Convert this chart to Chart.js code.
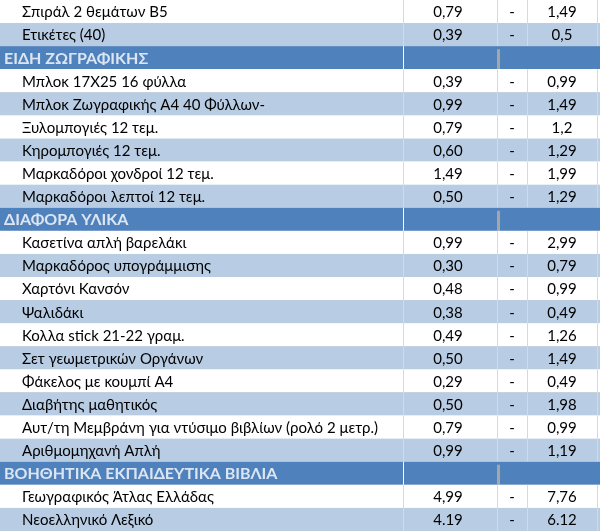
<!DOCTYPE html>
<html><head><meta charset="utf-8">
<script src="https://cdn.jsdelivr.net/npm/chart.js@4/dist/chart.umd.min.js"></script>
<style>html,body{margin:0;padding:0;background:#fff}#wrap{width:600px;height:531px}</style>
</head><body><div id="wrap"><canvas id="c"></canvas></div>
<script>
// Rows (header rows have null prices)
const items = ['Σπιράλ 2 θεμάτων Β5','Ετικέτες (40)','ΕΙΔΗ ΖΩΓΡΑΦΙΚΗΣ','Μπλοκ 17Χ25 16 φύλλα','Μπλοκ Ζωγραφικής Α4 40 Φύλλων-','Ξυλομπογιές 12 τεμ.','Κηρομπογιές 12 τεμ.','Μαρκαδόροι χονδροί 12 τεμ.','Μαρκαδόροι λεπτοί 12 τεμ.','ΔΙΑΦΟΡΑ ΥΛΙΚΑ','Κασετίνα απλή βαρελάκι','Μαρκαδόρος υπογράμμισης','Χαρτόνι Κανσόν','Ψαλιδάκι','Κολλα stick 21-22 γραμ.','Σετ γεωμετρικών Οργάνων','Φάκελος με κουμπί Α4','Διαβήτης μαθητικός','Αυτ/τη Μεμβράνη για ντύσιμο βιβλίων (ρολό 2 μετρ.)','Αριθμομηχανή Απλή','ΒΟΗΘΗΤΙΚΑ ΕΚΠΑΙΔΕΥΤΙΚΑ ΒΙΒΛΙΑ','Γεωγραφικός Άτλας Ελλάδας','Νεοελληνικό Λεξικό'];
const minPrice = [0.79,0.39,null,0.39,0.99,0.79,0.60,1.49,0.50,null,0.99,0.30,0.48,0.38,0.49,0.50,0.29,0.50,0.79,0.99,null,4.99,4.19];
const maxPrice = [1.49,0.5,null,0.99,1.49,1.2,1.29,1.99,1.29,null,2.99,0.79,0.99,0.49,1.26,1.49,0.49,1.98,0.99,1.19,null,7.76,6.12];
const minLabels = ['0,79','0,39','','0,39','0,99','0,79','0,60','1,49','0,50','','0,99','0,30','0,48','0,38','0,49','0,50','0,29','0,50','0,79','0,99','','4,99','4.19'];
const maxLabels = ['1,49','0,5','','0,99','1,49','1,2','1,29','1,99','1,29','','2,99','0,79','0,99','0,49','1,26','1,49','0,49','1,98','0,99','1,19','','7,76','6.12'];

const cols = [0, 403, 497, 527, 600];

const tablePlugin = {
  id: 'table',
  beforeDatasetsDraw(chart) {
    const ctx = chart.ctx, y = chart.scales.y;
    const h = Math.abs(y.getPixelForValue(1) - y.getPixelForValue(0));
    let alt = 0;
    items.forEach((name, i) => {
      const cy = y.getPixelForValue(i), top = cy - h / 2;
      const header = minPrice[i] === null;
      ctx.save();
      if (header) {
        ctx.fillStyle = '#4f81bd';
        ctx.fillRect(0, top, 600, h);
        ctx.fillStyle = '#a6a6a6';
        ctx.fillRect(cols[2], top + 3, 3, h - 3);
        ctx.fillStyle = '#dce6f2';
        ctx.font = 'bold 16px Lato, "Open Sans", sans-serif';
        ctx.textBaseline = 'middle';
        ctx.fillText(name, 4, cy + 1);
        alt = 0;
      } else {
        ctx.fillStyle = alt % 2 ? '#b8cce4' : '#ffffff';
        ctx.fillRect(0, top, 600, h);
        alt++;
        ctx.fillStyle = '#000';
        ctx.font = '15px Lato, "Open Sans", sans-serif';
        ctx.textBaseline = 'middle';
        ctx.textAlign = 'left';
        ctx.fillText(name, 22, cy + 1);
        ctx.textAlign = 'center';
        ctx.fillText(minLabels[i], 448, cy + 1);
        ctx.fillText('-', 512, cy + 1);
        ctx.fillText(maxLabels[i], 562, cy + 1);
      }
      // grid
      ctx.strokeStyle = header ? '#ffffff' : '#d9d9d9';
      ctx.lineWidth = 1;
      ctx.beginPath();
      ctx.moveTo(0, Math.round(top + h) + 0.5); ctx.lineTo(600, Math.round(top + h) + 0.5);
      [cols[1], cols[2], cols[3], 597].forEach(x => {
        if (header && x !== cols[1]) return;
        ctx.moveTo(x + 0.5, top); ctx.lineTo(x + 0.5, top + h);
      });
      ctx.stroke();
      ctx.restore();
    });
  }
};

new Chart(document.getElementById('c'), {
  type: 'bar',
  data: {
    labels: items,
    datasets: [{ data: items.map((_, i) => minPrice[i] === null ? null : [minPrice[i], maxPrice[i]]), backgroundColor: 'rgba(0,0,0,0)' }]
  },
  options: {
    indexAxis: 'y', responsive: true, maintainAspectRatio: false, animation: false,
    layout: { padding: 0 },
    plugins: { legend: { display: false }, tooltip: { enabled: false } },
    scales: {
      x: { display: false, min: 0, max: 8 },
      y: { display: false, offset: true }
    }
  },
  plugins: [tablePlugin]
});
</script></body></html>
